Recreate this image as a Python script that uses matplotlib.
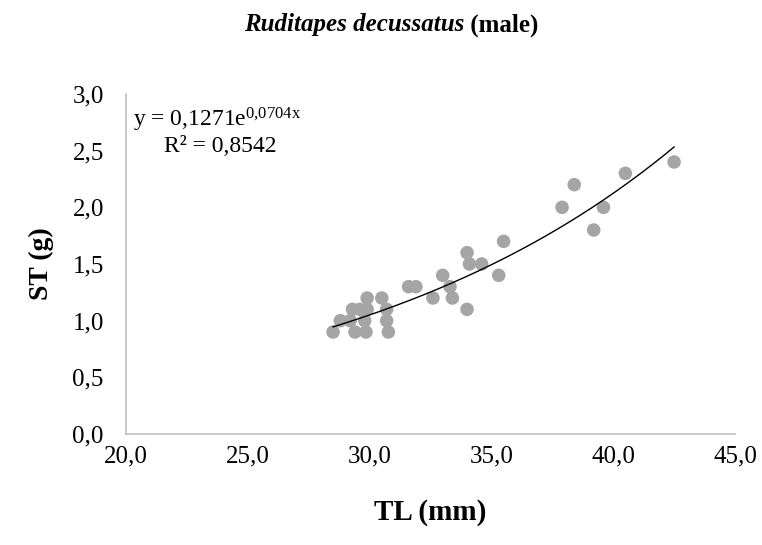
import matplotlib
matplotlib.use("Agg")
import matplotlib.pyplot as plt
import numpy as np

plt.rcParams['font.family'] = ['Liberation Serif', 'DejaVu Serif']
plt.rcParams['mathtext.fontset'] = 'custom'
plt.rcParams['mathtext.rm'] = 'Liberation Serif'
plt.rcParams['mathtext.it'] = 'Liberation Serif:italic'
plt.rcParams['mathtext.bf'] = 'Liberation Serif:bold'

# Data (TL in mm, ST in g)
tl = [28.5, 28.8, 29.2, 29.8, 29.4, 29.85, 30.77,
      29.3, 29.6, 29.9, 30.7, 30.7,
      29.9, 30.5, 32.6, 33.4,
      31.6, 31.9, 33.3,
      33.0, 35.3, 34.1, 34.6, 34.0, 34.0, 35.5,
      37.9, 38.4, 39.2, 39.6, 40.5, 42.5]
st = [0.9, 1.0, 1.0, 1.0, 0.9, 0.9, 0.9,
      1.1, 1.1, 1.1, 1.1, 1.0,
      1.2, 1.2, 1.2, 1.2,
      1.3, 1.3, 1.3,
      1.4, 1.4, 1.5, 1.5, 1.6, 1.1, 1.7,
      2.0, 2.2, 1.8, 2.0, 2.3, 2.4]

coef_a = 0.1271
coef_b = 0.0704
r2 = 0.8542

xticks = [20, 25, 30, 35, 40, 45]
yticks = [0, 0.5, 1.0, 1.5, 2.0, 2.5, 3.0]

def fmt(v):
    return f"{v:.1f}".replace('.', ',')

fig = plt.figure(figsize=(7.62, 5.45), dpi=100)
ax = fig.add_axes([126/762, 1-434/545, (735-126)/762, (434-94)/545])

ax.scatter(tl, st, s=95, color='#A5A5A5', edgecolors='none', zorder=3)

xs = np.linspace(min(tl), max(tl), 200)
ax.plot(xs, coef_a*np.exp(coef_b*xs), color='black', lw=1.0, zorder=4)

ax.set_xlim(20, 45)
ax.set_ylim(0, 3.0)
ax.set_xticks(xticks)
ax.set_xticklabels([fmt(v) for v in xticks])
ax.set_yticks(yticks)
ax.set_yticklabels([fmt(v) for v in yticks])
ax.tick_params(length=0, labelsize=18, colors='black')
ax.tick_params(axis='x', pad=8)
ax.tick_params(axis='y', pad=16)
for s in ['top', 'right']:
    ax.spines[s].set_visible(False)
for s in ['left', 'bottom']:
    ax.spines[s].set_color('#BFBFBF')
    ax.spines[s].set_linewidth(1.2)

ax.set_xlabel('TL (mm)', fontsize=21, fontweight='bold', labelpad=23)
ax.set_ylabel('ST (g)', fontsize=20, fontweight='bold', labelpad=13)

fig.text(133/762, 1-120/545, r'y = 0,1271e$^{\mathrm{0{,}0704x}}$',
         fontsize=17, ha='left', va='center')
fig.text(164/762, 1-146/545, 'R² = 0,8542',
         fontsize=17, ha='left', va='center')

# title (bold italic species name + bold "(male)"), centred at x=391px
t1 = fig.text(0, 1-25/545, 'Ruditapes decussatus', fontsize=18,
              fontweight='bold', fontstyle='italic', ha='left', va='center')
t2 = fig.text(0, 1-25/545, ' (male)', fontsize=18, fontweight='bold',
              ha='left', va='center')
fig.canvas.draw()
r = fig.canvas.get_renderer()
w1 = t1.get_window_extent(r).width
w2 = t2.get_window_extent(r).width
x0 = 391.5 - (w1 + w2) / 2
t1.set_x(x0 / 762)
t2.set_x((x0 + w1) / 762)

fig.savefig('out.png', dpi=100)
